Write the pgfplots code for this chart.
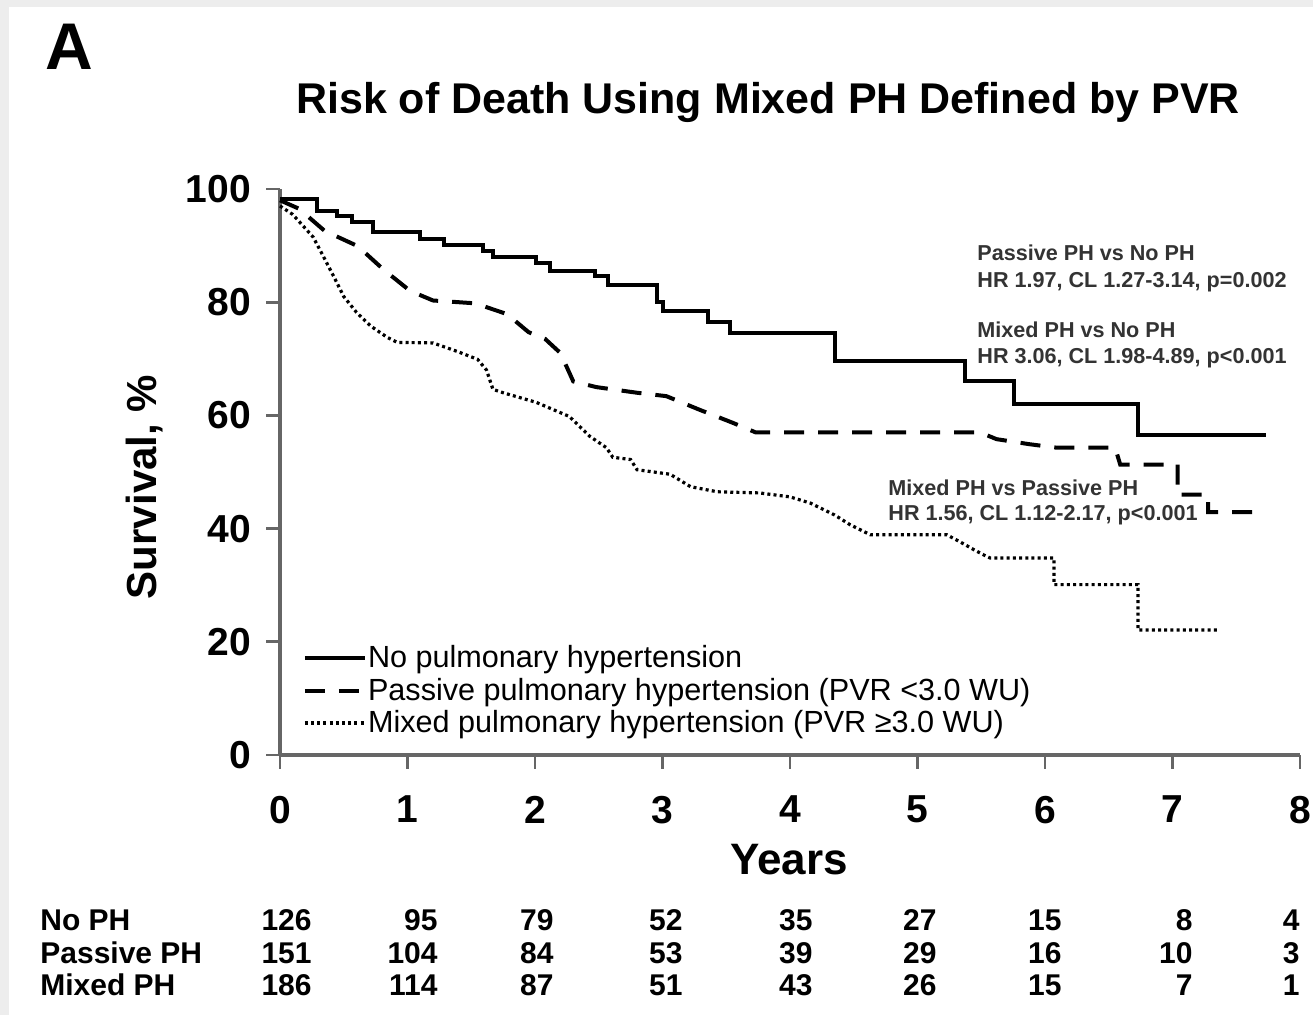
\documentclass[border=0pt]{standalone}
\usepackage{fontspec}
\setmainfont{Liberation Sans}
\usepackage{pgfplots}
\pgfplotsset{compat=1.18}
\begin{document}
\begin{tikzpicture}[x=0.5pt,y=0.5pt]
\fill[black!7] (0,0) rectangle (1313,1015);
\fill[white] (9,0) rectangle (1313,1008);
\path[use as bounding box] (0,0) rectangle (1313,1015);
\begin{axis}[
  at={(140pt,130pt)}, anchor=south west,
  scale only axis, width=510pt, height=283pt,
  xmin=0, xmax=8, ymin=0, ymax=100,
  axis x line=bottom, axis y line=left,
  axis line style={black!60, line width=1.6pt, -},
  xtick={0,1,...,8}, ytick={0,20,...,100},
  tick align=outside, major tick length=7pt,
  tick style={black!60, line width=1.4pt},
  ticklabel style={font=\fontsize{19.5}{20}\selectfont\bfseries},
  xticklabel style={yshift=-10pt},
  yticklabel style={xshift=-4pt},
  /pgf/number format/assume math mode=true,
  clip=false,
  legend style={at={(0.022,0.196)}, anchor=north west, draw=none, fill=none,
    font=\fontsize{15.3}{16}\selectfont, inner sep=0pt, row sep=2.4pt, nodes={inner sep=0.6pt}},
  legend cell align=left,
  legend image code/.code={\draw[#1] (0pt,0pt) -- (30pt,0pt);},
]
\addplot[const plot, black, line width=2pt] coordinates {
(0,98.2)(0.29,96.1)(0.45,95.2)(0.565,94.2)(0.73,92.4)(1.10,91.2)(1.29,90.1)(1.59,89.0)(1.67,88.0)(2.01,87.0)(2.12,85.5)(2.47,84.6)(2.57,83.0)(2.96,80.0)(3.0,78.5)(3.36,76.5)(3.53,74.5)(4.35,69.6)(5.37,66.0)(5.76,62.0)(6.73,56.6)(7.73,56.6)};
\addlegendentry{No pulmonary hypertension}
\addplot[black, line width=2pt, dash pattern=on 10pt off 7pt] coordinates {
(0,98)(0.15,96.5)(0.35,92.6)(0.61,89.9)(0.81,85.8)(1.02,82)(1.2,80.3)(1.53,79.8)(1.78,77.9)(1.95,74.7)(2.08,73.5)(2.2,71)(2.3,66)(2.48,65)(2.80,64)(3.03,63.4)(3.29,61)(3.55,58.7)(3.73,57.0)(5.49,57.0)(5.62,55.8)(5.88,54.9)(6.09,54.3)(6.55,54.3)(6.59,51.3)(7.04,51.3)(7.04,46)(7.28,46)(7.28,42.9)(7.73,42.9)};
\addlegendentry{Passive pulmonary hypertension (PVR <3.0 WU)}
\addplot[black, line width=1.6pt, dash pattern=on 1.5pt off 1.6pt] coordinates {
(0,97)(0.1,95.5)(0.16,94)(0.26,91.5)(0.34,88.1)(0.42,84.6)(0.5,81)(0.6,78.2)(0.71,75.8)(0.84,73.8)(0.92,72.9)(1.2,72.8)(1.39,71.3)(1.55,69.9)(1.62,68)(1.67,64.6)(1.75,64)(2.01,62.3)(2.27,59.8)(2.43,56.3)(2.56,54.3)(2.61,52.6)(2.75,52.2)(2.8,50.4)(3.06,49.6)(3.22,47.4)(3.43,46.5)(3.76,46.3)(4.0,45.6)(4.16,44.5)(4.35,42.4)(4.47,40.7)(4.63,38.9)(5.23,38.9)(5.33,37.7)(5.44,36.3)(5.54,35.1)(5.57,34.8)(6.07,34.8)(6.07,30.1)(6.73,30.1)(6.73,22.1)(7.36,22.1)};
\addlegendentry{Mixed pulmonary hypertension (PVR ≥3.0 WU)}
\end{axis}
% titles and labels
\node[font=\fontsize{33}{34}\selectfont\bfseries] at (69,968) {A};
\node[font=\fontsize{21.5}{22}\selectfont\bfseries] at (768,913) {Risk of Death Using Mixed PH Defined by PVR};
\node[rotate=90, font=\fontsize{21}{22}\selectfont\bfseries] at (145,528) {Survival, \%};
\node[font=\fontsize{22}{23}\selectfont\bfseries] at (789,155) {Years};
% annotations
\begin{scope}[every node/.style={anchor=base west, inner sep=0pt, font=\fontsize{10.8}{11}\selectfont\bfseries, text=black!80}]
\node at (977,754) {Passive PH vs No PH};
\node at (977,727) {HR 1.97, CL 1.27-3.14, p=0.002};
\node at (977,677) {Mixed PH vs No PH};
\node at (977,651) {HR 3.06, CL 1.98-4.89, p<0.001};
\node at (888,519) {Mixed PH vs Passive PH};
\node at (888,494) {HR 1.56, CL 1.12-2.17, p<0.001};
\end{scope}
% number at risk
\begin{scope}[every node/.style={inner sep=0pt, font=\fontsize{15}{16}\selectfont\bfseries}]
\node[anchor=base west] at (40,84) {No PH};
\node[anchor=base west] at (40,51) {Passive PH};
\node[anchor=base west] at (40,19) {Mixed PH};
\foreach \xx/\a/\b/\c in {312/126/151/186, 438/95/104/114, 554/79/84/87, 683/52/53/51, 813/35/39/43, 937/27/29/26, 1062/15/16/15, 1193/8/10/7, 1300/4/3/1}{
  \node[anchor=base east] at (\xx,84) {\a};
  \node[anchor=base east] at (\xx,51) {\b};
  \node[anchor=base east] at (\xx,19) {\c};
}
\end{scope}
\end{tikzpicture}
\end{document}
